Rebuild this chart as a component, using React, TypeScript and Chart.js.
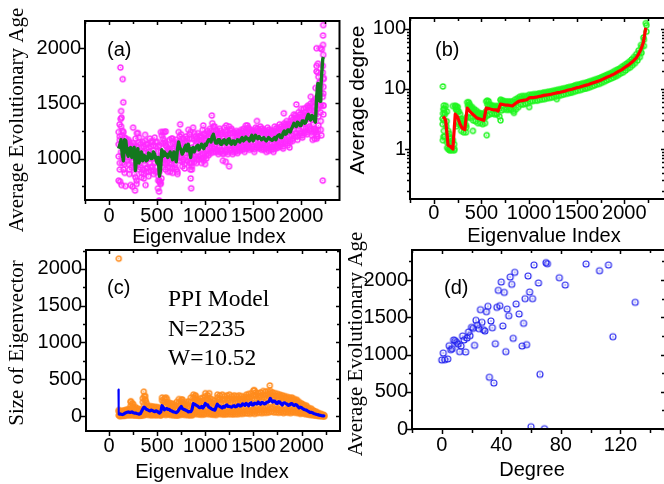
import React, { useEffect, useRef } from "react";
import { Chart, registerables } from "chart.js";

Chart.register(...registerables);

const evenIndex = [
  100,125,150,175,200,225,250,275,300,325,350,375,400,425,450,475,500,525,550,575,
  600,625,650,675,700,725,750,775,800,825,850,875,900,925,950,975,1000,1025,1050,1075,
  1100,1125,1150,1175,1200,1225,1250,1275,1300,1325,1350,1375,1400,1425,1450,1475,1500,1525,1550,1575,
  1600,1625,1650,1675,1700,1725,1750,1775,1800,1825,1850,1875,1900,1925,1950,1975,2000,2025,2050,2075,
  2100,2125,2150,2175,2200,2225,
];
const oddIndex = [
  112,137,162,187,212,237,262,287,312,337,362,387,412,437,462,487,512,537,562,587,
  612,637,662,687,712,737,762,787,812,837,862,887,912,937,962,987,1012,1037,1062,1087,
  1112,1137,1162,1187,1212,1237,1262,1287,1312,1337,1362,1387,1412,1437,1462,1487,1512,1537,1562,1587,
  1612,1637,1662,1687,1712,1737,1762,1787,1812,1837,1862,1887,1912,1937,1962,1987,2012,2037,2062,2087,
  2112,2137,2162,2180,2205,2232,
];

const ageMean = [
  1090,1170,980,1160,1020,1100,1060,890,1090,1000,980,1020,990,1040,1000,1040,960,840,1080,1060,
  1040,1030,1020,1060,970,1150,1080,1060,1120,1130,1010,1100,1090,1120,1100,1110,1130,1150,1170,1200,
  1170,1140,1170,1130,1170,1130,1180,1130,1160,1150,1165,1175,1160,1195,1180,1190,1160,1210,1180,1185,
  1180,1170,1175,1180,1165,1190,1200,1215,1190,1250,1230,1260,1270,1320,1290,1320,1300,1340,1330,1400,
  1350,1380,1330,1680,1520,1900,
];
const ageMeanOdd = [
  1120,1040,1170,1060,1090,1010,1100,1010,960,1060,1030,980,1050,1000,1060,1000,1010,900,1020,1030,
  1010,1060,990,1040,1080,1100,1040,1100,1070,1080,1090,1060,1110,1080,1130,1090,1120,1170,1150,1220,
  1140,1170,1130,1160,1140,1170,1140,1160,1130,1170,1150,1190,1170,1180,1160,1210,1180,1190,1200,1170,
  1190,1160,1190,1170,1180,1170,1210,1190,1230,1220,1260,1240,1290,1300,1330,1300,1340,1320,1370,1360,
  1390,1350,1560,1530,1640,1920,
];
const ageTop = [
  1240,1290,1240,1180,1170,1120,1140,1180,1230,1130,1150,1160,1130,1180,1160,1190,1150,1120,1210,1160,
  1110,1090,1180,1150,1170,1240,1220,1180,1200,1260,1240,1280,1200,1230,1210,1260,1230,1250,1270,1320,
  1290,1250,1270,1220,1280,1240,1290,1270,1240,1250,1240,1260,1270,1300,1280,1260,1240,1280,1270,1290,
  1270,1250,1280,1260,1240,1290,1280,1310,1290,1320,1340,1310,1370,1400,1370,1420,1400,1450,1420,1470,
  1500,1510,1540,1860,1700,1780,
];
const ageUpperMid = [
  1200,1250,1190,1160,1150,1100,1120,1110,1190,1100,1110,1130,1100,1150,1120,1150,1110,1060,1180,1140,
  1090,1080,1140,1130,1110,1200,1180,1150,1180,1220,1180,1230,1180,1200,1190,1220,1210,1230,1250,1290,
  1260,1230,1250,1200,1250,1220,1260,1230,1230,1230,1220,1250,1240,1270,1260,1250,1230,1270,1250,1270,
  1250,1240,1260,1250,1230,1270,1270,1290,1270,1310,1310,1340,1350,1390,1360,1400,1380,1420,1400,1460,
  1450,1470,1500,1740,1660,1720,
];
const ageUpper = [
  1170,1210,1100,1130,1120,1060,1100,1050,1150,1070,1060,1090,1060,1110,1070,1110,1060,1010,1140,1120,
  1070,1060,1090,1110,1060,1160,1140,1120,1150,1180,1100,1170,1150,1170,1160,1170,1180,1200,1220,1250,
  1220,1200,1220,1180,1220,1190,1230,1190,1210,1200,1210,1230,1210,1240,1230,1240,1210,1250,1230,1240,
  1230,1220,1230,1230,1220,1240,1250,1260,1250,1290,1280,1310,1320,1370,1340,1370,1350,1390,1380,1440,
  1400,1430,1450,1640,1600,1650,
];
const ageNear = [
  1130,1130,1030,1110,1060,1060,1100,930,1050,1040,1020,980,1030,1000,1040,1000,1000,880,1040,1020,
  1000,1060,990,1020,1000,1110,1040,1100,1090,1090,1050,1070,1120,1090,1130,1080,1160,1120,1140,1170,
  1130,1170,1140,1150,1140,1160,1150,1160,1130,1170,1140,1150,1190,1165,1150,1210,1185,1180,1210,1160,
  1150,1190,1150,1200,1190,1165,1170,1190,1215,1220,1255,1235,1290,1295,1315,1295,1325,1315,1355,1370,
  1375,1350,1400,1560,1480,1840,
];
const ageLower = [
  1020,1060,900,1050,950,1010,980,830,1000,920,900,950,920,960,930,960,880,800,1000,990,
  970,960,950,990,900,1070,1010,990,1050,1060,960,1030,1020,1050,1030,1040,1060,1080,1100,1130,
  1110,1080,1110,1070,1110,1080,1120,1080,1100,1090,1110,1120,1110,1140,1120,1140,1110,1150,1130,1130,
  1130,1120,1120,1130,1110,1140,1150,1160,1140,1190,1170,1200,1210,1260,1230,1260,1240,1280,1270,1320,
  1270,1310,1260,1450,1420,1560,
];
const ageLowerMid = [
  960,1010,950,1010,900,970,920,800,950,870,860,910,880,920,890,920,840,780,960,950,
  920,920,910,950,880,1020,970,950,1010,1010,930,1000,990,1020,1000,1010,1030,1050,1070,1090,
  1080,1060,1080,1050,1080,1060,1090,1060,1080,1070,1090,1100,1085,1110,1100,1110,1085,1120,1110,1100,
  1100,1090,1095,1100,1085,1110,1120,1130,1110,1160,1140,1170,1180,1230,1200,1230,1210,1250,1240,1290,
  1240,1270,1220,1380,1340,1480,
];
const ageBottom = [
  900,960,870,980,860,920,860,770,900,830,820,880,840,890,860,880,800,770,920,900,
  880,880,870,920,860,980,930,910,980,960,900,970,960,990,960,980,1000,1030,1050,1060,
  1060,1040,1060,1040,1060,1040,1070,1040,1060,1050,1070,1080,1060,1090,1080,1090,1060,1100,1090,1080,
  1080,1060,1070,1080,1060,1090,1100,1110,1090,1140,1120,1150,1160,1200,1170,1210,1190,1230,1220,1260,
  1210,1240,1180,1300,1260,1400,
];
const ageExtraX = [118,142,148,125,120,130,110,100,115,130,170,225,245,270,250,290,375,380,520,510,520,545,525,560,575,540,590,1070,980,855,850,845,860,1185,1250,1215,1820,1880,1950,2225,2230,2228,2228,2200,2160,2215,2230,2160,2160,2175,2235,2190,2150,2210,2170,2140,2120,2200,2230,2230,2150,2175,1000,970,2000,2050,2100,2130,2070,1540,1220,1440,740,630,660,670];
const ageExtraY = [1825,1720,1510,1430,1360,1370,1310,800,790,760,750,760,745,710,1280,1230,1215,760,620,730,700,820,790,1240,1240,1240,1245,1390,1300,730,820,900,960,980,930,970,1410,1100,1490,800,2210,2115,2030,2000,2000,1990,1940,1840,1790,1780,1730,1690,1640,1210,1200,1180,1170,1480,1590,1480,1250,1260,950,1000,1450,1460,1560,1520,1480,1340,1300,1300,1310,1170,1180,980];

const degMean = [
  3.5,3.0,1.15,1.1,1.0,3.8,3.4,2.6,2.2,2.1,4.8,4.3,3.9,3.6,3.3,3.2,3.1,3.0,4.8,4.7,
  4.6,4.5,4.5,4.3,5.6,5.5,5.4,5.4,5.3,5.2,5.6,6.0,6.3,6.4,6.5,6.6,7.1,7.2,7.2,7.3,
  7.5,7.6,7.8,7.9,8.0,8.1,8.3,8.5,8.7,8.8,9.0,9.2,9.5,9.7,9.9,10.2,10.5,10.7,11.0,11.3,
  11.6,11.9,12.3,12.7,13.1,13.5,14.0,14.6,15.2,15.9,16.5,17.2,18,19,20,21,22.5,24,25.5,27.5,
  30,33,38,46,60,105,
];
const degTop = [
  4.6,5.2,2.0,1.5,1.4,5.2,5.0,3.8,3.0,3.0,6.0,5.6,5.0,4.6,4.3,4.0,3.9,3.8,6.2,6.2,
  5.4,5.2,5.2,5.2,6.6,6.4,6.2,6.2,6.2,6.2,6.6,7.0,7.4,7.6,7.6,7.6,8.0,8.0,8.2,8.2,
  8.4,8.5,8.7,8.8,9.0,9.1,9.3,9.5,9.7,9.9,10.1,10.3,10.6,10.8,11.0,11.4,11.7,11.9,12.2,12.5,
  12.8,13.2,13.6,14,14.5,15,15.5,16.2,16.8,17.5,18.2,19,20,21,22,23.5,25,26.5,28.5,31,
  34,38,44,54,72,125,
];
const degUpper = [
  4.0,4.2,1.6,1.3,1.2,4.5,4.2,3.2,2.6,2.5,5.4,5.0,4.5,4.1,3.8,3.6,3.5,3.4,5.5,5.4,
  5.0,4.9,4.8,4.7,6.1,6.0,5.8,5.8,5.8,5.7,6.1,6.5,6.9,7.0,7.0,7.1,7.5,7.6,7.7,7.8,
  8.0,8.1,8.3,8.4,8.5,8.6,8.8,9.0,9.2,9.4,9.6,9.8,10,10.2,10.5,10.8,11.1,11.3,11.6,11.9,
  12.2,12.5,13,13.4,13.8,14.2,14.8,15.4,16,16.7,17.4,18.1,19,20,21,22.2,23.7,25.2,27,29,
  32,35,41,50,66,115,
];
const degBottom = [
  1.6,1.3,1.0,0.95,0.95,2.4,2.6,2.0,1.9,1.9,3.4,3.3,3.0,2.9,2.7,2.7,2.6,2.7,3.6,3.8,
  3.9,3.8,3.8,3.5,4.4,4.6,4.5,4.5,4.5,4.3,4.6,5.0,5.5,5.5,5.7,5.8,6.2,6.3,6.4,6.4,
  6.6,6.7,6.8,7.0,7.1,7.2,7.4,7.6,7.7,7.9,8.1,8.3,8.5,8.8,8.9,9.2,9.4,9.6,9.9,10.2,
  10.4,10.7,11.1,11.5,11.9,12.2,12.7,13.2,13.8,14.4,15,15.6,16.3,17.2,18.2,19,20.3,21.8,23,25,
  27,30,34,40,52,90,
];
const degExtraX = [95,105,110,100,95,105,115,200,225,240,365,410,555,700,705,560,840,1000,1290,1440,1590,1900,150,170,185,215,165,140,155,180,160,130,135,90,92,96,104,235,250,265,280,300,320,340,345,360,380,395,430,460,500,530,545,580,620,660,720,760,800];
const degExtraY = [11,5.3,4.7,1.6,1.4,2.0,3.8,5.2,5.2,5.0,6,2.0,1.7,3.0,6.5,6.4,4,5,6.8,8.7,10.2,17,1.0,1.0,1.0,1.0,0.95,1.05,1.3,1.5,1.8,2.4,2.9,3.2,2.6,3.9,3.0,4.5,4.2,3.1,2.5,2.6,2.4,2.3,3.4,5.2,4.8,4.5,4.1,3.9,3.5,3.3,4.2,5.3,5.0,3.9,5.9,4.9,4.8];

const sizeMean = [
  20,25,25,45,55,50,45,40,30,30,95,110,85,70,75,60,65,40,140,85,
  100,90,70,55,45,85,130,90,75,55,60,170,150,130,115,110,170,150,110,90,
  80,160,130,110,120,150,130,120,140,130,150,140,160,170,140,180,150,170,190,160,
  180,170,190,240,190,200,170,190,150,180,160,150,170,145,150,110,115,90,80,60,
  50,35,25,15,8,3,
];
const sizeMeanOdd = [
  30,20,35,50,50,55,40,35,25,60,120,90,75,80,65,70,50,55,120,95,
  90,75,60,50,60,110,100,85,70,60,90,160,140,115,130,130,150,120,100,85,
  120,140,120,130,140,130,125,135,125,150,135,165,145,160,170,150,175,165,170,185,
  165,185,200,210,205,175,195,165,175,170,145,165,150,155,130,120,100,85,70,50,
  45,30,20,12,5,2,
];
const sizeTop = [
  80,70,75,85,95,190,160,120,100,90,240,270,140,135,130,125,120,110,250,240,
  230,180,170,160,190,230,220,170,190,200,250,290,270,220,240,250,310,280,240,220,
  210,290,280,290,270,280,290,270,280,270,280,270,260,290,300,310,350,320,310,320,
  340,330,340,340,320,310,300,290,280,270,260,250,250,230,220,190,170,150,140,110,
  100,75,60,40,30,15,
];
const sizeMidHigh = [
  60,55,60,75,85,140,125,95,85,75,190,220,130,115,115,110,110,95,215,190,
  190,150,140,130,140,180,200,155,155,160,190,250,240,200,200,210,270,240,200,180,
  170,250,230,220,220,240,240,220,240,230,240,230,240,260,250,270,280,280,280,270,
  290,280,300,310,280,280,270,270,240,250,230,225,230,210,205,170,160,135,120,90,
  80,60,45,30,20,10,
];
const sizeUpper = [
  50,50,55,70,80,110,100,75,70,60,150,180,120,100,105,95,100,80,190,150,
  160,130,115,100,100,140,180,140,130,120,130,220,210,180,170,170,230,200,170,150,
  140,220,190,170,180,210,190,180,200,190,210,200,220,230,200,240,220,240,250,230,
  250,240,260,280,250,260,240,250,210,240,210,200,220,190,190,150,150,120,100,75,
  60,45,32,20,12,6,
];
const sizeLower = [
  8,10,10,25,30,30,25,20,15,15,40,60,45,35,40,30,35,20,80,50,
  55,50,35,25,20,45,70,50,40,25,30,100,90,70,60,60,100,85,60,50,
  45,100,75,60,70,90,75,70,80,75,90,85,100,110,85,115,90,110,125,100,
  115,110,125,160,125,135,105,125,90,120,100,95,110,90,95,60,70,55,45,35,
  30,20,15,8,3,0,
];
const sizeMidLow = [
  3,6,8,18,20,20,15,14,10,10,25,40,30,22,25,20,22,14,50,30,
  35,30,22,16,14,30,45,30,25,18,20,60,55,45,38,40,60,55,40,32,
  30,60,50,40,45,55,50,45,50,50,60,55,65,70,55,75,60,75,85,70,
  80,75,85,105,85,90,75,85,65,85,70,65,80,65,65,45,50,40,32,25,
  20,14,10,5,2,0,
];
const sizeBottom = [
  0,3,4,10,10,10,8,8,5,6,10,20,15,10,12,10,12,8,25,15,
  20,15,10,8,8,15,20,15,12,10,10,30,25,20,18,20,30,25,20,18,
  15,30,25,20,22,25,25,22,25,25,30,30,35,35,30,40,30,40,45,40,
  45,45,50,60,50,50,45,50,40,50,45,40,50,45,40,30,35,25,22,15,
  12,8,5,3,1,0,
];
const sizeExtraX = [100,360,365,375,225,1670,895,1040,1510,2235,240,590,760];
const sizeExtraY = [2140,330,270,215,200,415,280,310,350,0,170,250,225];
const sizeSpikeX = [97,100];
const sizeSpikeY = [360,20];

const degreeValues = [0,1,2,4,5,6,7,8,9,10,11,12,13,14,15,16,17,18,19,20,21,22,23,24,25,26,27,28,29,30,31,32,33,34,35,36,37,38,39,40,41,42,43,44,45,46,47,48,49,50,52,54,55,56,57,58,59,60,61,62,65,66,69,70,71,79,83,97,106,112,115,130];
const degreeAges = [926,1020,930,940,1118,1065,1078,1195,1186,1163,1140,1038,1114,1248,1195,1033,1221,1302,1253,1365,1351,1123,1459,1396,1347,1602,1432,1333,1315,1575,1647,694,1450,1360,617,1145,1633,1861,1655,1973,1383,1834,1038,1610,1521,2040,1942,1217,2103,1678,1544,1114,1418,1750,1132,2054,1839,31,1750,2201,1960,734,4,2233,2219,2031,1933,2215,2125,2201,1239,1700];

const indexTicks = [-250,0,250,500,750,1000,1250,1500,1750,2000,2250];
const indexLabels = [0,500,1000,1500,2000];
const ageTicksA = [750,1000,1250,1500,1750,2000];
const ageLabelsA = [1000,1500,2000];
const degreeTicksY = [0.2,0.3,0.4,0.5,0.6,0.7,0.8,0.9,1,2,3,4,5,6,7,8,9,10,20,30,40,50,60,70,80,90,100];
const degreeLabelsY = [1,10,100];
const sizeTicks = [0,250,500,750,1000,1250,1500,1750,2000,2250];
const sizeLabels = [0,500,1000,1500,2000];
const degreeTicksX = [-20,0,20,40,60,80,100,120,140];
const degreeLabelsX = [0,40,80,120];
const ageTicksD = [0,250,500,750,1000,1250,1500,1750,2000,2250];
const ageLabelsD = [0,500,1000,1500,2000];

const SANS = "'Liberation Sans', Arial, sans-serif";
const SERIF = "'Liberation Serif', 'Times New Roman', serif";
const W = 670;
const H = 484;

const zip = (xs: number[], ys: number[]) => xs.map((x, i) => ({ x, y: ys[i] }));
const weave = (xs: number[], ys: number[], xs2: number[], ys2: number[]) =>
  xs.flatMap((x, i) => [
    { x, y: ys[i] },
    { x: xs2[i], y: ys2[i] },
  ]);

const ringSprite = (color: string, r: number, lw: number) => {
  const size = Math.ceil(r * 2 + 4);
  const c = document.createElement("canvas");
  c.width = size;
  c.height = size;
  const g = c.getContext("2d")!;
  g.strokeStyle = color;
  g.fillStyle = color;
  g.lineWidth = lw;
  g.beginPath();
  g.arc(size / 2, size / 2, r, 0, Math.PI * 2);
  g.stroke();
  g.globalAlpha = 0.8;
  g.beginPath();
  g.arc(size / 2, size / 2, 0.7, 0, Math.PI * 2);
  g.fill();
  return c;
};

const rings = (xs: number[], ys: number[], color: string, radius = 2.5, lw = 1.45) => ({
  data: zip(xs, ys),
  showLine: false,
  pointRadius: radius,
  pointStyle: ringSprite(color, radius, lw),
  order: 2,
});
const curveOf = (data: { x: number; y: number }[], color: string, width = 3.4) => ({
  data,
  showLine: true,
  pointRadius: 0,
  borderColor: color,
  borderWidth: width,
  borderJoinStyle: "round",
  order: 1,
});

const framePlugin = {
  id: "panelFrame",
  afterDraw(chart: any) {
    const { ctx, chartArea: a, scales } = chart;
    ctx.save();
    ctx.strokeStyle = "#000";
    ctx.lineWidth = 1.5;
    ctx.beginPath();
    for (const t of scales.x.ticks) {
      const p = Math.round(scales.x.getPixelForValue(t.value));
      const big = t.label !== "";
      ctx.moveTo(p + 0.5, a.bottom);
      ctx.lineTo(p + 0.5, a.bottom + (big ? 5 : 4));
      ctx.moveTo(p + 0.5, a.top);
      ctx.lineTo(p + 0.5, a.top + (big ? 4 : 3));
    }
    for (const t of scales.y.ticks) {
      const p = Math.round(scales.y.getPixelForValue(t.value));
      const big = t.label !== "";
      ctx.moveTo(a.left, p + 0.5);
      ctx.lineTo(a.left - (big ? 5 : 3), p + 0.5);
      ctx.moveTo(a.right, p + 0.5);
      ctx.lineTo(a.right - (big ? 4 : 3), p + 0.5);
    }
    ctx.stroke();
    ctx.lineWidth = 2;
    ctx.strokeRect(a.left, a.top, a.right - a.left, a.bottom - a.top);
    ctx.restore();
  },
};

const pageTextPlugin = {
  id: "pageText",
  afterDraw(chart: any, _args: any, opts: any) {
    const { ctx } = chart;
    for (const t of opts.items || []) {
      ctx.save();
      ctx.fillStyle = "#000";
      ctx.font = t.font;
      ctx.textAlign = t.align || "left";
      ctx.textBaseline = "alphabetic";
      ctx.translate(t.x, t.y);
      if (t.rotate) ctx.rotate(-Math.PI / 2);
      ctx.fillText(t.text, 0, 0);
      ctx.restore();
    }
  },
};

type PanelSpec = {
  box: { left: number; top: number; right: number; bottom: number };
  xRange: [number, number];
  yRange: [number, number];
  yType?: string;
  xPad: number;
  xTicks: number[];
  xLabels: number[];
  yTicks: number[];
  yLabels: number[];
  datasets: any[];
  items: any[];
};

const MAGENTA = "#ff2cff";
const LIME = "#20f520";
const ORANGE = "#ff8c1e";

const panels: PanelSpec[] = [
  {
    box: { left: 85, top: 21, right: 339.5, bottom: 200 },
    xRange: [-250, 2400],
    yRange: [624, 2247],
    xPad: 4,
    xTicks: indexTicks,
    xLabels: indexLabels,
    yTicks: ageTicksA,
    yLabels: ageLabelsA,
    datasets: [
      curveOf(weave(evenIndex, ageMean, oddIndex, ageMeanOdd), "#14781e"),
      rings(evenIndex, ageTop, MAGENTA),
      rings(oddIndex, ageUpperMid, MAGENTA),
      rings(oddIndex, ageUpper, MAGENTA),
      rings(evenIndex, ageNear, MAGENTA),
      rings(evenIndex, ageLower, MAGENTA),
      rings(oddIndex, ageLowerMid, MAGENTA),
      rings(oddIndex, ageBottom, MAGENTA),
      rings(ageExtraX, ageExtraY, MAGENTA),
    ],
    items: [
      { text: "(a)", x: 107, y: 56, font: `20px ${SANS}` },
      { text: "Eigenvalue Index", x: 209, y: 243, align: "center", font: `20px ${SANS}` },
      { text: "Average Evolutionary Age", x: 23, y: 120, rotate: true, align: "center", font: `21px ${SERIF}` },
    ],
  },
  {
    box: { left: 410, top: 18, right: 667, bottom: 199 },
    xRange: [-250, 2427],
    yRange: [0.147, 152],
    yType: "logarithmic",
    xPad: 2,
    xTicks: indexTicks,
    xLabels: indexLabels,
    yTicks: degreeTicksY,
    yLabels: degreeLabelsY,
    datasets: [
      curveOf(zip(evenIndex, degMean), "#ff0000", 3.2),
      rings(evenIndex, degTop, LIME),
      rings(oddIndex, degUpper, LIME),
      rings(oddIndex, degBottom, LIME),
      rings(degExtraX, degExtraY, LIME),
    ],
    items: [
      { text: "(b)", x: 435, y: 56, font: `20px ${SANS}` },
      { text: "Eigenvalue Index", x: 544, y: 242, align: "center", font: `20px ${SANS}` },
      { text: "Average degree", x: 364, y: 100, rotate: true, align: "center", font: `21px ${SANS}` },
    ],
  },
  {
    box: { left: 86, top: 250, right: 340, bottom: 431 },
    xRange: [-240, 2400],
    yRange: [-204, 2258],
    xPad: 3,
    xTicks: indexTicks.slice(1),
    xLabels: indexLabels,
    yTicks: sizeTicks,
    yLabels: sizeLabels,
    datasets: [
      curveOf(zip(sizeSpikeX, sizeSpikeY), "#0000ff", 2),
      curveOf(weave(evenIndex, sizeMean, oddIndex, sizeMeanOdd), "#0000ff", 3.2),
      rings(evenIndex, sizeTop, ORANGE),
      rings(evenIndex, sizeMidHigh, ORANGE),
      rings(oddIndex, sizeUpper, ORANGE),
      rings(evenIndex, sizeLower, ORANGE),
      rings(oddIndex, sizeMidLow, ORANGE),
      rings(oddIndex, sizeBottom, ORANGE),
      rings(sizeExtraX, sizeExtraY, ORANGE),
    ],
    items: [
      { text: "(c)", x: 107, y: 294, font: `20px ${SANS}` },
      { text: "PPI Model", x: 168, y: 306, font: `23.5px ${SERIF}` },
      { text: "N=2235", x: 168, y: 336, font: `23.5px ${SERIF}` },
      { text: "W=10.52", x: 168, y: 365, font: `23.5px ${SERIF}` },
      { text: "Eigenvalue Index", x: 212, y: 478, align: "center", font: `20px ${SANS}` },
      { text: "Size of Eigenvector", x: 23, y: 343, rotate: true, align: "center", font: `21px ${SERIF}` },
    ],
  },
  {
    box: { left: 412, top: 250, right: 667, bottom: 429 },
    xRange: [-20, 150],
    yRange: [0, 2403],
    xPad: 4,
    xTicks: degreeTicksX,
    xLabels: degreeLabelsX,
    yTicks: ageTicksD,
    yLabels: ageLabelsD,
    datasets: [rings(degreeValues, degreeAges, "#2020ee", 3, 1.1)],
    items: [
      { text: "(d)", x: 444, y: 294, font: `20px ${SANS}` },
      { text: "Degree", x: 532, y: 476, align: "center", font: `20px ${SANS}` },
      { text: "Average Evolutionary Age", x: 362, y: 344, rotate: true, align: "center", font: `21px ${SERIF}` },
    ],
  },
];

function makeChart(canvas: HTMLCanvasElement, p: PanelSpec) {
  return new Chart(canvas, {
    type: "scatter",
    data: { datasets: p.datasets },
    plugins: [framePlugin, pageTextPlugin],
    options: {
      responsive: false,
      animation: false,
      events: [],
      layout: {
        padding: { left: 0, top: p.box.top, right: W - p.box.right, bottom: 0 },
      },
      plugins: {
        legend: { display: false },
        tooltip: { enabled: false },
        pageText: { items: p.items },
      },
      scales: {
        x: {
          type: "linear",
          min: p.xRange[0],
          max: p.xRange[1],
          grid: { display: false, drawTicks: false },
          border: { display: false },
          afterBuildTicks: (s: any) => {
            s.ticks = p.xTicks.map((value) => ({ value }));
          },
          afterFit: (s: any) => {
            s.height = H - p.box.bottom;
          },
          ticks: {
            autoSkip: false,
            maxRotation: 0,
            padding: p.xPad,
            color: "#000",
            font: { family: SANS, size: 20 },
            callback: (v: any) => (p.xLabels.includes(Number(v)) ? String(v) : ""),
          },
        },
        y: {
          type: p.yType || "linear",
          min: p.yRange[0],
          max: p.yRange[1],
          grid: { display: false, drawTicks: false },
          border: { display: false },
          afterBuildTicks: (s: any) => {
            s.ticks = p.yTicks.map((value) => ({ value }));
          },
          afterFit: (s: any) => {
            s.width = p.box.left;
          },
          ticks: {
            autoSkip: false,
            padding: 4,
            color: "#000",
            font: { family: SANS, size: 20 },
            callback: (v: any) => (p.yLabels.includes(Number(v)) ? String(v) : ""),
          },
        },
      },
    } as any,
  } as any);
}

function Panel({ panel }: { panel: PanelSpec }) {
  const ref = useRef<HTMLCanvasElement>(null);
  useEffect(() => {
    const chart = makeChart(ref.current!, panel);
    return () => chart.destroy();
  }, [panel]);
  return (
    <canvas
      ref={ref}
      width={W}
      height={H}
      style={{ position: "absolute", left: 0, top: 0, display: "block" }}
    />
  );
}

export default function App() {
  return (
    <div
      style={{
        position: "absolute",
        left: 0,
        top: 0,
        width: 664,
        height: 484,
        overflow: "hidden",
        background: "#fff",
      }}
    >
      {panels.map((p, i) => (
        <Panel key={i} panel={p} />
      ))}
    </div>
  );
}
